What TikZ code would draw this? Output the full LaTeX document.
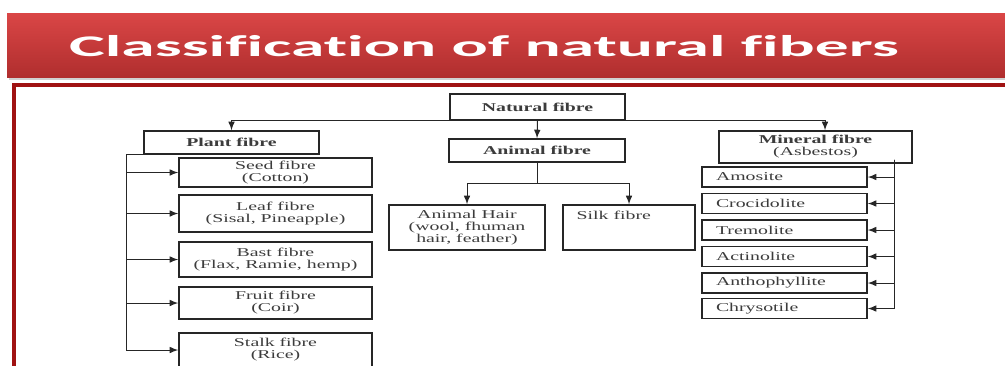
\documentclass[tikz,border=0pt]{standalone}
\usepackage{fontspec}
\setmainfont{Liberation Serif}[FakeStretch=1.65]
\newfontfamily\titlefont{Carlito}[FakeStretch=2.25, Ligatures={NoCommon}]
\definecolor{barTop}{RGB}{218,70,70}
\definecolor{barBot}{RGB}{176,46,46}
\definecolor{frameRed}{RGB}{160,18,18}
\definecolor{inkGray}{RGB}{60,60,60}
\tikzset{
  fbox/.style={draw=black!85, line width=0.7pt, text=inkGray, font=\fontsize{6}{6}\selectfont, align=center, inner sep=1pt},
  headbox/.style={fbox, font=\fontsize{6}{6}\selectfont\bfseries},
  mbox/.style={fbox, align=left, text width=68.5pt, inner xsep=7pt, minimum width=82.5pt, minimum height=10pt},
  link/.style={draw=black!85, line width=0.5pt},
}

\begin{document}
\begin{tikzpicture}[x=0.5pt, y=-0.5pt, >=latex]
	\useasboundingbox (0,0) rectangle (1005,365);
	\clip (0,0) rectangle (1005,365);

	% Title bar with its shadow
	\fill[black!18] (9,15) rectangle (1010,80);
	\shade[top color=barTop, bottom color=barBot] (7,13) rectangle (1010,77);
	\node[text=white, font=\titlefont\fontsize{15}{15}\selectfont\bfseries] (title) at (484,46) {Classification of natural fibers};

	% Red frame of the slide body
	\draw[frameRed, line width=2.2pt] (14,370) -- (14,85) -- (1010,85);

	% Top level
	\node[headbox, minimum width=87.5pt, minimum height=13pt] (nat) at (537.5,107) {Natural fibre};
	\node[headbox, minimum width=87.5pt, minimum height=11.5pt] (plant) at (231.5,142.5) {Plant fibre};
	\node[headbox, minimum width=88pt, minimum height=11.5pt] (animal) at (537,150.5) {Animal fibre};
	\node[fbox, minimum width=96.5pt, minimum height=16pt] (mineral) at (815.5,147) {{\bfseries Mineral fibre}\\(Asbestos)};

	% Plant fibres
	\node[fbox, minimum width=96.5pt, minimum height=14.5pt] (seed) at (275.5,172.5) {Seed fibre\\(Cotton)};
	\node[fbox, minimum width=96.5pt, minimum height=18.5pt] (leaf) at (275.5,213.5) {Leaf fibre\\(Sisal, Pineapple)};
	\node[fbox, minimum width=96.5pt, minimum height=17.5pt] (bast) at (275.5,259.5) {Bast fibre\\(Flax, Ramie, hemp)};
	\node[fbox, minimum width=96.5pt, minimum height=16pt] (fruit) at (275.5,303) {Fruit fibre\\(Coir)};
	\node[fbox, minimum width=96.5pt, minimum height=17pt] (stalk) at (275.5,350) {Stalk fibre\\(Rice)};

	% Animal fibres
	\node[fbox, minimum width=78pt, minimum height=22.5pt] (hair) at (467,227.5) {Animal Hair\\(wool, fhuman\\hair, feather)};
	\node[fbox, minimum width=66pt, minimum height=22.5pt,
		label={[anchor=north west, xshift=7pt, yshift=-3pt, inner sep=0pt, text=inkGray, font=\fontsize{6}{6}\selectfont]north west:Silk fibre}] (silk) at (629,227.5) {};

	% Mineral fibres
	\node[mbox] (amosite) at (784.5,177) {Amosite};
	\node[mbox] (crocid) at (784.5,203.5) {Crocidolite};
	\node[mbox] (tremol) at (784.5,230) {Tremolite};
	\node[mbox] (actino) at (784.5,256.5) {Actinolite};
	\node[mbox] (antho) at (784.5,283) {Anthophyllite};
	\node[mbox] (chryso) at (784.5,308.5) {Chrysotile};

	% Connectors
	\draw[link,->] (nat.south) -- (animal.north);
	\draw[link,->] (nat.south) -| (plant.north);
	\draw[link,->] (nat.south) -| ([xshift=4.75pt]mineral.north);

	\draw[link] (animal.south) -- ++(0,21) coordinate (split);
	\draw[link,->] (split) -| (hair.north);
	\draw[link,->] (split) -| (silk.north);

	\draw[link] (plant.south west) -- ++(-17,0) coordinate (ptrunk);
	\foreach \n in {seed,leaf,bast,fruit,stalk}
		\draw[link,->] (ptrunk) |- (\n.west);

	\coordinate (mtrunk) at ([xshift=-9pt,yshift=2pt]mineral.south east);
	\foreach \n in {amosite,crocid,tremol,actino,antho,chryso}
		\draw[link,->] (mtrunk) |- (\n.east);
\end{tikzpicture}
\end{document}
